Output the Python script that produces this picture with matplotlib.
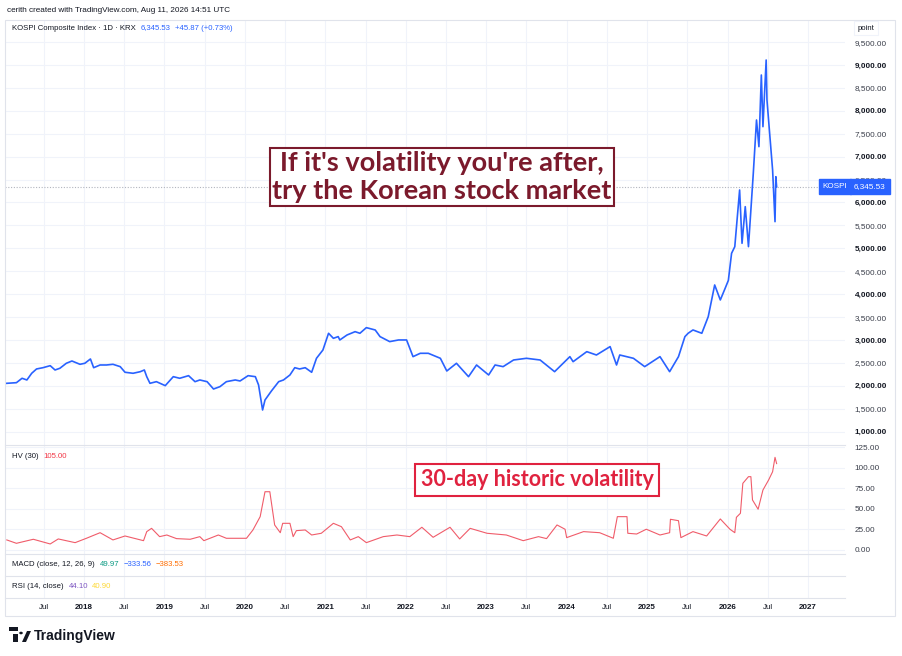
import matplotlib
matplotlib.use("Agg")
import matplotlib.pyplot as plt
from matplotlib.patches import Rectangle, Circle, Polygon
from matplotlib.lines import Line2D

# KOSPI daily close (decimal year, points)
kospi_t = [2017.04, 2017.16, 2017.23, 2017.29, 2017.35, 2017.41, 2017.49, 2017.58, 2017.64,
           2017.70, 2017.78, 2017.85, 2017.95, 2018.01, 2018.08, 2018.12, 2018.20, 2018.28,
           2018.36, 2018.45, 2018.51, 2018.61, 2018.70, 2018.75, 2018.78, 2018.82, 2018.90,
           2019.01, 2019.11, 2019.19, 2019.30, 2019.38, 2019.44, 2019.53, 2019.61, 2019.69,
           2019.77, 2019.88, 2019.94, 2020.04, 2020.13, 2020.17, 2020.22, 2020.25, 2020.33,
           2020.42, 2020.48, 2020.56, 2020.62, 2020.68, 2020.75, 2020.83, 2020.89, 2020.97,
           2021.04, 2021.10, 2021.16, 2021.18, 2021.27, 2021.37, 2021.43, 2021.51, 2021.62,
           2021.68, 2021.80, 2021.91, 2022.01, 2022.09, 2022.18, 2022.28, 2022.43, 2022.51,
           2022.63, 2022.78, 2022.88, 2023.03, 2023.11, 2023.21, 2023.34, 2023.50, 2023.67,
           2023.85, 2024.04, 2024.08, 2024.25, 2024.37, 2024.54, 2024.62, 2024.66, 2024.83,
           2024.97, 2025.16, 2025.28, 2025.39, 2025.47, 2025.51, 2025.57, 2025.68, 2025.76,
           2025.84, 2025.91, 2025.97, 2026.01, 2026.05, 2026.09, 2026.15, 2026.18, 2026.22,
           2026.26, 2026.32, 2026.36, 2026.39, 2026.42, 2026.44, 2026.48, 2026.49, 2026.54,
           2026.56, 2026.59, 2026.60, 2026.61]
kospi_v = [2054, 2068, 2164, 2127, 2273, 2367, 2395, 2439, 2345,
           2382, 2491, 2541, 2469, 2491, 2585, 2395, 2454, 2454,
           2469, 2418, 2295, 2273, 2308, 2345, 2199, 2054, 2090,
           2003, 2199, 2164, 2221, 2090, 2127, 2090, 1930, 1981,
           2090, 2127, 2105, 2221, 2199, 2018, 1472, 1690, 1887,
           2090, 2127, 2236, 2395, 2367, 2395, 2295, 2600, 2781,
           3146, 3036, 3073, 3000, 3109, 3181, 3146, 3269, 3218,
           3073, 2964, 3000, 3000, 2636, 2709, 2709, 2600, 2323,
           2491, 2199, 2454, 2236, 2454, 2418, 2563, 2600, 2563,
           2308, 2636, 2526, 2745, 2672, 2855, 2454, 2672, 2600,
           2418, 2636, 2308, 2636, 3073, 3146, 3218, 3146, 3509,
           4200, 3873, 4127, 4300, 4891, 5036, 6273, 5109, 5909,
           5036, 6636, 7800, 7218, 8782, 7654, 9109, 8236, 7145,
           6709, 5581, 6563, 6345.53]

# HV(30)
hv_t = [2017.04, 2017.16, 2017.37, 2017.58, 2017.68, 2017.89, 2018.03, 2018.20, 2018.36,
        2018.51, 2018.74, 2018.78, 2018.84, 2018.94, 2019.03, 2019.15, 2019.32, 2019.44,
        2019.49, 2019.67, 2019.77, 2020.02, 2020.10, 2020.19, 2020.25, 2020.31, 2020.37,
        2020.44, 2020.47, 2020.56, 2020.60, 2020.64, 2020.75, 2020.83, 2020.95, 2021.10,
        2021.20, 2021.31, 2021.41, 2021.51, 2021.72, 2021.89, 2022.05, 2022.20, 2022.34,
        2022.55, 2022.67, 2022.80, 2023.01, 2023.25, 2023.46, 2023.65, 2023.75, 2023.88,
        2023.98, 2024.00, 2024.21, 2024.41, 2024.58, 2024.63, 2024.75, 2024.76, 2024.87,
        2024.99, 2025.16, 2025.28, 2025.29, 2025.39, 2025.42, 2025.57, 2025.74, 2025.91,
        2026.03, 2026.09, 2026.11, 2026.16, 2026.19, 2026.26, 2026.29, 2026.31, 2026.38,
        2026.44, 2026.51, 2026.56, 2026.59, 2026.61]
hv_v = [12.2, 8.1, 13.0, 7.3, 13.4, 8.9, 14.2, 21.0, 12.2,
        17.0, 11.3, 22.3, 26.3, 16.2, 18.2, 13.8, 13.0, 16.2,
        11.3, 18.2, 14.2, 14.2, 24.3, 40.5, 70.8, 70.8, 30.4,
        21.0, 32.4, 32.4, 16.2, 23.5, 24.3, 18.2, 20.3, 32.4,
        28.3, 12.2, 16.2, 8.9, 16.2, 18.2, 16.2, 27.6, 15.4,
        27.6, 13.4, 26.3, 20.3, 18.2, 11.3, 16.2, 13.8, 30.4,
        25.2, 15.0, 22.3, 21.0, 14.2, 40.5, 40.5, 20.3, 19.4,
        25.2, 18.2, 21.0, 37.3, 35.6, 15.0, 22.3, 17.0, 37.7,
        25.2, 21.0, 39.7, 44.6, 81.0, 89.1, 89.1, 60.8, 49.5,
        72.9, 85.0, 95.1, 112.6, 105.0]

price_ticks = list(range(1000, 9501, 500))
hv_ticks = [0, 25, 50, 75, 100, 125]
x_ticks = [2017.5 + 0.5 * i for i in range(20)]
x_labels = ["Jul" if t % 1 else str(int(t)) for t in x_ticks]

W, H = 903, 656
BLUE = "#2962ff"
GRID = "#f0f3fa"
TXT = "#131722"
SMALL = 5.6
plt.rcParams["font.family"] = ["Liberation Sans", "DejaVu Sans"]

fig = plt.figure(figsize=(W / 100, H / 100), dpi=100)


def box(y_top, y_bot):
    return [5 / W, 1 - y_bot / H, 840 / W, (y_bot - y_top) / H]


xlim = (2017.018, 2027.46)

ax = fig.add_axes(box(20, 445))
hv = fig.add_axes(box(445, 554))
macd = fig.add_axes(box(554, 576))
rsi = fig.add_axes(box(576, 598))

for a in (ax, hv, macd, rsi):
    a.set_xlim(*xlim)
    a.set_xticks(x_ticks)
    a.grid(True, axis="x", color=GRID, lw=0.8)
    a.tick_params(axis="x", length=0, labelbottom=False)
    for s in a.spines.values():
        s.set_visible(False)
    a.set_facecolor("white")

for a in (macd, rsi):
    a.set_yticks([])

# main price pane
ax.plot(kospi_t, kospi_v, color=BLUE, lw=1.2, zorder=3)
ax.set_ylim(708, 9982)
ax.set_yticks(price_ticks)
ax.grid(True, axis="y", color=GRID, lw=0.8)
ax.yaxis.tick_right()
ax.tick_params(axis="y", length=0, pad=7, labelsize=5.9, labelcolor=TXT)
ax.set_yticklabels([f"{v:,.2f}" for v in price_ticks])
for lab, v in zip(ax.get_yticklabels(), price_ticks):
    if v % 1000 == 0:
        lab.set_fontweight("bold")
    else:
        lab.set_color("#3a3e4a")
ax.axhline(kospi_v[-1], color="#b2b5be", lw=0.8, ls=(0, (1, 1.5)), zorder=2)

# HV pane
hv.plot(hv_t, hv_v, color="#f05c6a", lw=0.8, zorder=3)
hv.set_ylim(-4.9, 127.6)
hv.set_yticks(hv_ticks)
hv.grid(True, axis="y", color=GRID, lw=0.8)
hv.yaxis.tick_right()
hv.tick_params(axis="y", length=0, pad=7, labelsize=5.9, labelcolor="#3a3e4a")
hv.set_yticklabels([f"{v:.2f}" for v in hv_ticks])

# time axis
rsi.tick_params(axis="x", labelbottom=True, pad=4, labelsize=5.8, labelcolor=TXT)
rsi.set_xticklabels(x_labels)
for lab, t in zip(rsi.get_xticklabels(), x_ticks):
    if t % 1 == 0:
        lab.set_fontweight("bold")

# pane separators and frame
for y in (445, 554, 576, 598):
    fig.add_artist(Line2D([5 / W, 845 / W], [1 - y / H] * 2, color="#e0e3eb", lw=0.8))
fig.add_artist(Rectangle((5 / W, 1 - 616 / H), 890 / W, 596 / H, fill=False,
                         ec="#e0e3eb", lw=0.8))

# header
fig.text(7 / W, 1 - 10 / H, "cerith created with TradingView.com, Aug 11, 2026 14:51 UTC",
         fontsize=5.9, color=TXT, va="center")
fig.canvas.draw()
r = fig.canvas.get_renderer()


def legend_row(y, head, parts):
    t = fig.text(12 / W, 1 - y / H, head, fontsize=SMALL, color=TXT, va="center")
    x = t.get_window_extent(r).x1 + 5
    for s, c in parts:
        tt = fig.text(x / W, 1 - y / H, s, fontsize=SMALL, color=c, va="center")
        x = tt.get_window_extent(r).x1 + 4


legend_row(28, "KOSPI Composite Index · 1D · KRX", [("6,345.53", BLUE),
                                                     ("+45.87 (+0.73%)", BLUE)])
legend_row(457, "HV (30)", [("105.00", "#f23645")])
legend_row(565, "MACD (close, 12, 26, 9)", [("49.97", "#089981"), ("\u2212333.56", BLUE),
                                            ("\u2212383.53", "#ff6d00")])
legend_row(587, "RSI (14, close)", [("44.10", "#7e57c2"), ("40.90", "#fdd835")])

# "point" box on price scale
fig.text(866 / W, 1 - 28 / H, "point", fontsize=SMALL, color=TXT, ha="center", va="center",
         zorder=10, bbox=dict(boxstyle="square,pad=0.5", fc="white", ec="#f0f3fa", lw=0.8))

# last price labels
ax.annotate("6,345.53", xy=(870 / W, kospi_v[-1]), xycoords=("figure fraction", "data"),
            ha="center", va="center", fontsize=5.9, color="white", annotation_clip=False,
            zorder=10, bbox=dict(boxstyle="square,pad=0.45", fc=BLUE, ec=BLUE))
ax.annotate("KOSPI", xy=(835 / W, kospi_v[-1]), xycoords=("figure fraction", "data"),
            ha="center", va="center", fontsize=5.9, color="white", annotation_clip=False,
            zorder=10, bbox=dict(boxstyle="square,pad=0.45", fc=BLUE, ec=BLUE))

# annotations
fig.text(442 / W, 1 - 177 / H, "If it's volatility you're after,\ntry the Korean stock market",
         fontsize=19.5, family="Lato", fontweight="bold", color="#7b1a2c", ha="center",
         va="center", linespacing=1.22,
         bbox=dict(boxstyle="square,pad=0.1", fc="white", ec="#7b1a2c", lw=1.5))
fig.text(537 / W, 1 - 480 / H, "30-day historic volatility", fontsize=15.5, family="Lato",
         fontweight="bold", color="#e0223f", ha="center", va="center",
         bbox=dict(boxstyle="square,pad=0.24", fc="white", ec="#e0223f", lw=1.5))

# TradingView logo
lx, ly = 9, 636
fig.add_artist(Rectangle((lx / W, 1 - (ly - 5) / H), 9 / W, 4 / H, fc="#131722", ec="none"))
fig.add_artist(Rectangle(((lx + 4) / W, 1 - (ly + 6) / H), 5 / W, 8 / H, fc="#131722", ec="none"))
fig.add_artist(Circle(((lx + 12) / W, 1 - (ly - 3) / H), 1.8 / W, fc="#131722", ec="none"))
fig.add_artist(Polygon([((lx + 13) / W, 1 - (ly + 6) / H), ((lx + 17) / W, 1 - (ly + 6) / H),
                        ((lx + 22) / W, 1 - (ly - 5) / H), ((lx + 18) / W, 1 - (ly - 5) / H)],
                       fc="#131722", ec="none"))
fig.text((lx + 25) / W, 1 - ly / H, "TradingView", fontsize=10, fontweight="bold",
         color="#131722", va="center")

fig.savefig("out.png", dpi=100, facecolor="white")
